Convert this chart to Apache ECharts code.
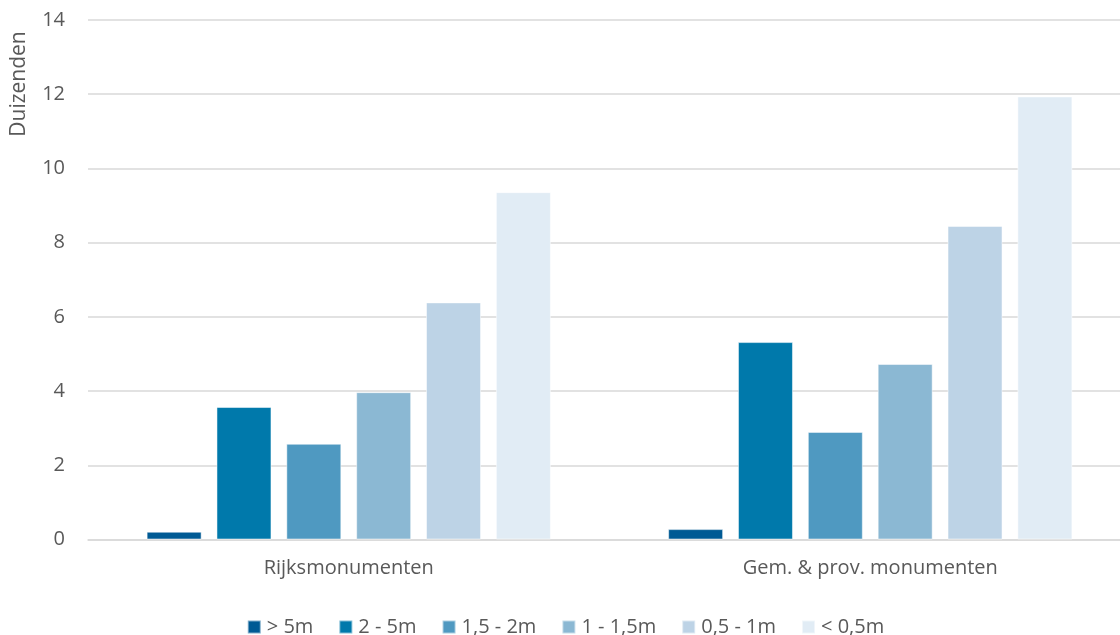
<!DOCTYPE html>
<html>
<head>
<meta charset="utf-8">
<script src="https://cdn.jsdelivr.net/npm/echarts@6/dist/echarts.min.js"></script>
<style>
html,body{margin:0;padding:0;background:#fff;overflow:hidden;width:1120px;height:635px;}
#chart{width:1131px;height:635px;}
</style>
</head>
<body>
<div id="chart"></div>
<script>
var categories = ['Rijksmonumenten', 'Gem. & prov. monumenten'];
var seriesNames = ['> 5m', '2 - 5m', '1,5 - 2m', '1 - 1,5m', '0,5 - 1m', '< 0,5m'];
var gt5 = [0.21, 0.28];
var from2to5 = [3.57, 5.32];
var from15to2 = [2.58, 2.90];
var from1to15 = [3.97, 4.73];
var from05to1 = [6.39, 8.45];
var lt05 = [9.36, 11.94];
var yTicks = [0, 2, 4, 6, 8, 10, 12, 14];
var colors = ['#005a94', '#0079ab', '#4f99c1', '#8bb8d3', '#bdd3e6', '#e1ecf5'];

var allValues = [gt5, from2to5, from15to2, from1to15, from05to1, lt05];
var font = '"Open Sans", "Liberation Sans", sans-serif';
var textColor = '#595959';

var chart = echarts.init(document.getElementById('chart'));
chart.setOption({
  animation: false,
  backgroundColor: '#ffffff',
  color: colors,
  grid: { left: 88, top: 20, right: 0, bottom: 95.5, containLabel: false },
  legend: {
    data: seriesNames,
    left: 'center',
    top: 612,
    itemWidth: 13,
    itemHeight: 13,
    itemGap: 25,
    icon: 'rect',
    textStyle: { fontFamily: font, fontSize: 20, color: textColor, padding: [0, 0, 0, 1] }
  },
  graphic: [{
    type: 'text',
    x: 19,
    y: 84,
    rotation: Math.PI / 2,
    style: {
      text: 'Duizenden',
      fontFamily: font,
      fontSize: 21,
      fill: textColor,
      align: 'center',
      verticalAlign: 'middle'
    }
  }],
  xAxis: {
    type: 'category',
    data: categories,
    axisLine: { lineStyle: { color: '#d9d9d9', width: 1.5 } },
    axisTick: { show: false },
    axisLabel: { fontFamily: font, fontSize: 20, color: textColor, margin: 19 }
  },
  yAxis: {
    type: 'value',
    min: yTicks[0],
    max: yTicks[yTicks.length - 1],
    interval: yTicks[1] - yTicks[0],
    axisLine: { show: false },
    axisTick: { show: false },
    splitLine: { lineStyle: { color: '#d9d9d9', width: 1.5 } },
    axisLabel: { fontFamily: font, fontSize: 20, color: textColor, margin: 23 }
  },
  series: seriesNames.map(function (name, i) {
    return {
      name: name,
      type: 'bar',
      data: allValues[i],
      barWidth: 55,
      barGap: '27%',
      itemStyle: { borderColor: 'rgba(255,255,255,0.5)', borderWidth: 1 }
    };
  })
});
</script>
</body>
</html>
